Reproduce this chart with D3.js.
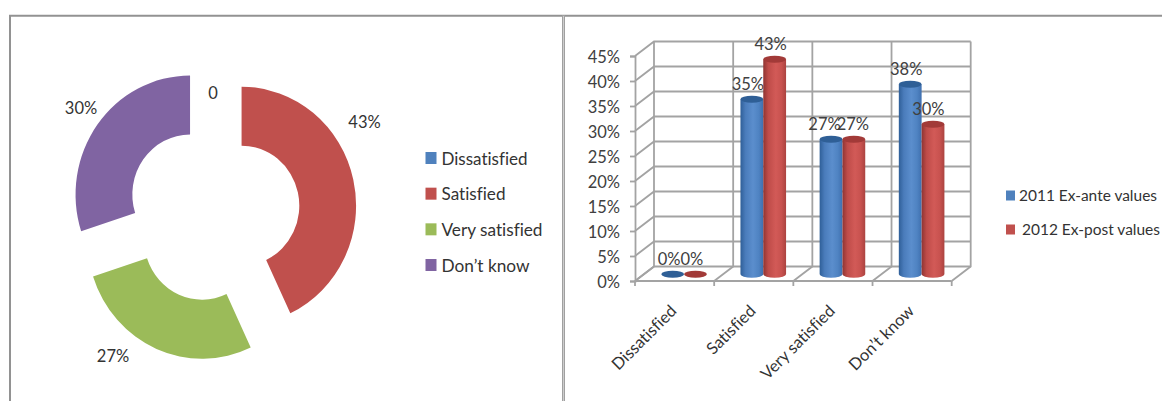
<!DOCTYPE html>
<html>
<head>
<meta charset="utf-8">
<script src="https://cdn.jsdelivr.net/npm/d3@7/dist/d3.min.js"></script>
<style>
html, body { margin: 0; padding: 0; background: #fff; overflow: hidden; }
svg { display: block; }
text { font-family: Lato, "Open Sans", sans-serif; font-variant-ligatures: none; }
</style>
</head>
<body>
<script>
// Survey answers shared by both charts
const categories = ["Dissatisfied", "Satisfied", "Very satisfied", "Don\u2019t know"];
const donutValues = [0, 43, 27, 30];
const donutLabels = ["0", "43%", "27%", "30%"];
const donutColors = ["#4f81bd", "#c0504d", "#9bbb59", "#8064a2"];

const seriesNames = ["2011 Ex-ante values", "2012 Ex-post values"];
const exAnte = [0, 35, 27, 38];
const exPost = [0, 43, 27, 30];
const yTicks = [0, 5, 10, 15, 20, 25, 30, 35, 40, 45];

const width = 1162, height = 401;
const svg = d3.select("body").append("svg").attr("width", width).attr("height", height);
const defs = svg.append("defs");

// ---- panel frame ----
const frame = svg.append("g").attr("fill", "none");
frame.append("line").attr("x1", 9).attr("x2", width).attr("y1", 15.7).attr("y2", 15.7)
  .attr("stroke", "#929292").attr("stroke-width", 2);
frame.append("line").attr("x1", 10).attr("x2", 10).attr("y1", 15).attr("y2", height)
  .attr("stroke", "#929292").attr("stroke-width", 2);
frame.append("line").attr("x1", 563.5).attr("x2", 563.5).attr("y1", 15).attr("y2", height)
  .attr("stroke", "#a0a0a0").attr("stroke-width", 3);
frame.append("line").attr("x1", 563.5).attr("x2", 563.5).attr("y1", 16).attr("y2", height)
  .attr("stroke", "#d8d8d8").attr("stroke-width", 0.8);

// ---- exploded donut ----
const donutCentre = [213.4, 212.2];
const squeezeX = 114.5 / 119;   // the ring is slightly narrower than it is tall
const outerR = 119, innerR = 60, explode = 30;

const pie = d3.pie().sort(null).value(d => d)(donutValues);
const arc = d3.arc().innerRadius(innerR).outerRadius(outerR);
const donut = svg.append("g")
  .attr("transform", `translate(${donutCentre}) scale(${squeezeX},1)`);
donut.selectAll("path").data(pie).join("path")
  .attr("d", arc)
  .attr("fill", (d, i) => donutColors[i])
  .attr("transform", d => {
    const mid = (d.startAngle + d.endAngle) / 2;
    return `translate(${explode * Math.sin(mid)},${-explode * Math.cos(mid)})`;
  });

// Value labels sit just outside the ring, at hand-picked spots
const donutLabelAnchors = [[213, 99], [364.5, 127.5], [113, 362], [81, 113.5]];
svg.append("g").selectAll("text").data(donutLabels).join("text")
  .attr("x", (d, i) => donutLabelAnchors[i][0])
  .attr("y", (d, i) => donutLabelAnchors[i][1])
  .attr("text-anchor", "middle")
  .attr("font-size", 16.5)
  .attr("fill", "#333")
  .text(d => d);

// Donut legend
const donutLegend = d3.scalePoint().domain(categories).range([158, 265]);
const dl = svg.append("g").selectAll("g").data(categories).join("g")
  .attr("transform", d => `translate(425.5,${donutLegend(d)})`);
dl.append("rect").attr("x", 0).attr("y", -6).attr("width", 11).attr("height", 12)
  .attr("fill", (d, i) => donutColors[i]);
dl.append("text").attr("x", 16).attr("y", 6.5).attr("font-size", 17).attr("fill", "#333")
  .attr("textLength", (d, i) => [86, 64, 101, 88][i]).attr("lengthAdjust", "spacingAndGlyphs")
  .text(d => d);

// ---- 3-D cylinder chart ----
const depthX = 19, depthY = -14.5;
const floorY = 281, left = 635, right = 951.7;
const y = d3.scaleLinear().domain([0, 45]).range([floorY, floorY - 225]);
const x0 = d3.scaleBand().domain(categories).range([left, right]);
const x1 = d3.scaleBand().domain([0, 1]).range([-22.8, 22.8]);
const gridColor = "#a3a3a3", inkColor = "#404040";

const grid = svg.append("g").attr("stroke", gridColor).attr("stroke-width", 1.8).attr("fill", "none");
// back wall and side wall rules
grid.selectAll("path.h").data(yTicks).join("path").attr("class", "h")
  .attr("d", t => `M${left},${y(t)}l${depthX},${depthY}H${right + depthX}`);
// floor lines and back-wall verticals
const edges = categories.map(c => x0(c)).concat([right]);
grid.selectAll("path.v").data(edges).join("path").attr("class", "v")
  .attr("d", e => `M${e},${floorY}l${depthX},${depthY}V${y(45) + depthY}`);
grid.append("path").attr("d", `M${right},${floorY}H${left}`);

// axes along the front edge
const yAxis = d3.axisLeft(y).tickValues(yTicks).tickFormat(t => t + "%").tickSize(5).tickPadding(10);
const yG = svg.append("g").attr("transform", `translate(${left},0)`).call(yAxis);
yG.selectAll("path,line").attr("stroke", gridColor).attr("stroke-width", 1.8);
yG.selectAll("text").attr("font-size", 16.5).attr("fill", inkColor).attr("dy", "0.42em")
  .style("font-family", "Lato, 'Open Sans', sans-serif");

const xAxis = d3.axisBottom(x0).tickSize(0).tickPadding(0);
const xG = svg.append("g").attr("transform", `translate(0,${floorY})`).call(xAxis);
xG.select(".domain").remove();
xG.selectAll("text")
  .attr("font-size", 16.5)
  .attr("fill", "#333")
  .attr("text-anchor", "end")
  .attr("dy", 0)
  .attr("y", 0)
  .attr("transform", `translate(3,31) rotate(-45)`)
  .style("font-family", "Lato, 'Open Sans', sans-serif");
svg.append("g").attr("stroke", gridColor).attr("stroke-width", 1.8).selectAll("line")
  .data(edges).join("line")
  .attr("x1", e => e).attr("x2", e => e).attr("y1", floorY).attr("y2", floorY + 5);

// Cylinder shading runs left to right across each bar
const shades = [
  { side: ["#2f5f98", "#4a7cbb", "#5b8ecd", "#4f83c2", "#3f6fae"], cap: "#2f5f96" },
  { side: ["#8f3432", "#bf4c49", "#d25a57", "#c8524f", "#ab4340"], cap: "#a23a38" }
];
shades.forEach((s, i) => {
  const g = defs.append("linearGradient").attr("id", "cyl" + i);
  g.selectAll("stop").data(s.side).join("stop")
    .attr("offset", (d, k) => [0, 0.22, 0.55, 0.8, 1][k])
    .attr("stop-color", d => d);
});

const rx = x1.bandwidth() / 2, ry = 3.4;
const midDepthX = depthX / 2, midDepthY = depthY / 2 + 0.5;
const seriesValues = [exAnte, exPost];
const labelNudge = [[-3.6, -3.6], [-4, -4], [-6.5, -1], [-4, -4.7]];

categories.forEach((cat, c) => {
  const cx0 = x0(cat) + x0.bandwidth() / 2 + midDepthX;
  const g = svg.append("g");
  seriesValues.forEach((vals, s) => {
    const v = vals[c];
    const cx = cx0 + x1(s) + rx;
    const base = y(0) + midDepthY, top = y(v) + midDepthY;
    if (v > 0) {
      g.append("path")
        .attr("d", `M${cx - rx},${top}V${base}A${rx},${ry} 0 0 0 ${cx + rx},${base}V${top}Z`)
        .attr("fill", `url(#cyl${s})`);
    }
    g.append("ellipse")
      .attr("cx", cx).attr("cy", top).attr("rx", rx).attr("ry", ry)
      .attr("fill", shades[s].cap);
    g.append("text")
      .attr("x", cx + labelNudge[c][s])
      .attr("y", top - 9)
      .attr("text-anchor", "middle")
      .attr("font-size", 16.5)
      .attr("fill", inkColor)
      .text(v + "%");
  });
});

// Series legend
const seriesOffset = [0, 3];
const sl = svg.append("g").selectAll("g").data(seriesNames).join("g")
  .attr("transform", (d, i) => `translate(1006,${195.5 + i * 34})`);
sl.append("rect").attr("x", 0).attr("y", -5).attr("width", 9).attr("height", 10)
  .attr("fill", (d, i) => donutColors[i]);
sl.append("text").attr("x", (d, i) => 13 + seriesOffset[i]).attr("y", 5.5)
  .attr("font-size", 15.5).attr("fill", "#333")
  .attr("textLength", 138).attr("lengthAdjust", "spacingAndGlyphs")
  .text(d => d);
</script>
</body>
</html>
